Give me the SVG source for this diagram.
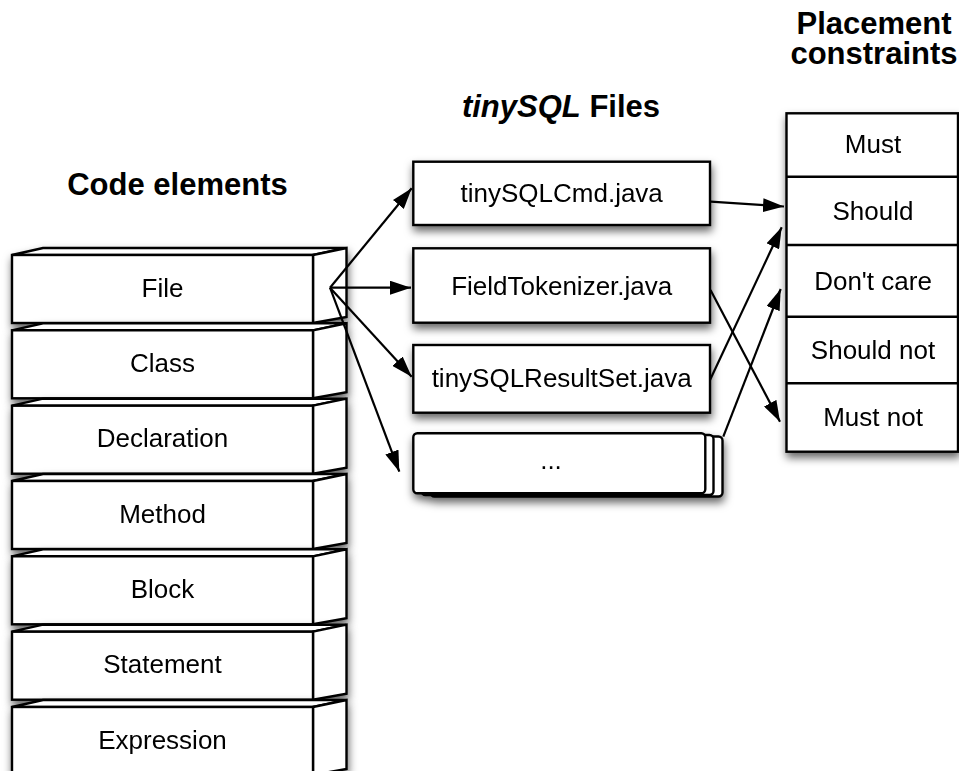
<svg xmlns="http://www.w3.org/2000/svg" width="959" height="771" viewBox="0 0 959 771">
<defs>
<style>
text{font-family:"Liberation Sans",Arial,Helvetica,sans-serif;fill:#000}
.lbl{font-size:26px;text-anchor:middle}
.ttl{font-size:31px;font-weight:bold;text-anchor:middle}
.bx{fill:#fff;stroke:#000;stroke-width:2.4;stroke-linejoin:miter}
.sep{fill:none;stroke:#000;stroke-width:2.4}
.cn{fill:none;stroke:#000;stroke-width:2.2}
</style>
<filter id="sh" x="-20%" y="-20%" width="140%" height="160%">
<feDropShadow dx="1" dy="5" stdDeviation="4.5" flood-color="#000" flood-opacity="0.6"/>
</filter>
<marker id="ah" viewBox="0 0 21 14" refX="21" refY="7" markerWidth="21" markerHeight="14" markerUnits="userSpaceOnUse" orient="auto">
<path d="M0,0 L21,7 L0,14 z" fill="#000"/>
</marker>
<g id="cube">
<polygon class="bx" points="12,0 43,-7 346.5,-7 313,0"/>
<polygon class="bx" points="313,0 346.5,-7 346.5,62 313,68"/>
<rect class="bx" x="12" y="0" width="301" height="68"/>
</g>
</defs>
<rect width="959" height="771" fill="#fff"/>

<text class="ttl" x="177.5" y="195">Code elements</text>
<text class="ttl" x="561" y="117"><tspan font-style="italic">tinySQL</tspan> Files</text>
<text class="ttl"><tspan x="874" y="34">Placement</tspan><tspan x="874" y="64">constraints</tspan></text>

<g id="n-file" transform="translate(0,255)" filter="url(#sh)"><use href="#cube"/><text class="lbl" x="162.5" y="41.5">File</text></g>
<g id="n-class" transform="translate(0,330.3)" filter="url(#sh)"><use href="#cube"/><text class="lbl" x="162.5" y="41.5">Class</text></g>
<g id="n-declaration" transform="translate(0,405.7)" filter="url(#sh)"><use href="#cube"/><text class="lbl" x="162.5" y="41.5">Declaration</text></g>
<g id="n-method" transform="translate(0,481)" filter="url(#sh)"><use href="#cube"/><text class="lbl" x="162.5" y="41.5">Method</text></g>
<g id="n-block" transform="translate(0,556.3)" filter="url(#sh)"><use href="#cube"/><text class="lbl" x="162.5" y="41.5">Block</text></g>
<g id="n-statement" transform="translate(0,631.7)" filter="url(#sh)"><use href="#cube"/><text class="lbl" x="162.5" y="41.5">Statement</text></g>
<g id="n-expression" transform="translate(0,707)" filter="url(#sh)"><use href="#cube"/><text class="lbl" x="162.5" y="41.5">Expression</text></g>

<g id="n-cmd" filter="url(#sh)"><rect class="bx" x="413.3" y="161.7" width="296.7" height="63.3"/><text class="lbl" x="561.7" y="201.5">tinySQLCmd.java</text></g>
<g id="n-tok" filter="url(#sh)"><rect class="bx" x="413.3" y="248.3" width="296.7" height="74.4"/><text class="lbl" x="561.7" y="294.5">FieldTokenizer.java</text></g>
<g id="n-rs" filter="url(#sh)"><rect class="bx" x="413.3" y="345" width="296.7" height="67.7"/><text class="lbl" x="561.7" y="387">tinySQLResultSet.java</text></g>
<g id="n-more" filter="url(#sh)">
<rect class="bx" x="430.5" y="436.5" width="292" height="60" rx="4"/>
<rect class="bx" x="421.5" y="435" width="292" height="60" rx="4"/>
<rect class="bx" x="413.3" y="433.3" width="292" height="60" rx="4"/>
<text class="lbl" x="551" y="469">...</text>
</g>

<g id="n-constraints" filter="url(#sh)">
<rect class="bx" x="786.5" y="113.3" width="171.5" height="338.4"/>
<line class="sep" x1="786.5" y1="176.7" x2="958" y2="176.7"/>
<line class="sep" x1="786.5" y1="245" x2="958" y2="245"/>
<line class="sep" x1="786.5" y1="316.7" x2="958" y2="316.7"/>
<line class="sep" x1="786.5" y1="383.3" x2="958" y2="383.3"/>
<text class="lbl" x="873" y="153">Must</text>
<text class="lbl" x="873" y="219.5">Should</text>
<text class="lbl" x="873" y="289.5">Don't care</text>
<text class="lbl" x="873" y="358.5">Should not</text>
<text class="lbl" x="873" y="426">Must not</text>
</g>

<g id="connectors">
<line class="cn" x1="330" y1="287.7" x2="411.7" y2="188.3" marker-end="url(#ah)"/>
<line class="cn" x1="330" y1="287.7" x2="411" y2="287.7" marker-end="url(#ah)"/>
<line class="cn" x1="330" y1="287.7" x2="411.7" y2="376.7" marker-end="url(#ah)"/>
<line class="cn" x1="330" y1="287.7" x2="399.3" y2="471.7" marker-end="url(#ah)"/>
<line class="cn" x1="710.7" y1="201.7" x2="784" y2="206.5" marker-end="url(#ah)"/>
<line class="cn" x1="710.5" y1="290" x2="780" y2="421.7" marker-end="url(#ah)"/>
<line class="cn" x1="710" y1="380" x2="781.7" y2="227.3" marker-end="url(#ah)"/>
<line class="cn" x1="723.3" y1="436.7" x2="780.7" y2="289" marker-end="url(#ah)"/>
</g>
</svg>
